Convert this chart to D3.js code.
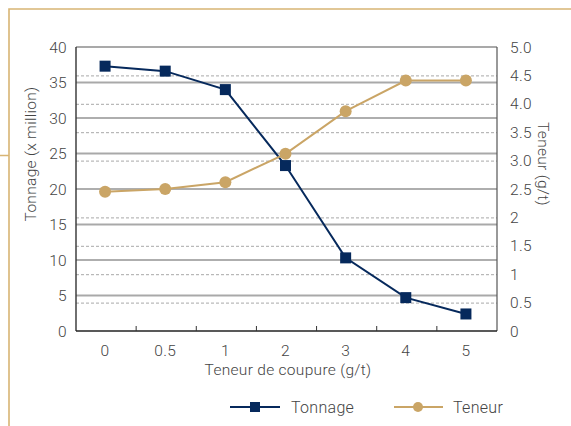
<!DOCTYPE html>
<html>
<head>
<meta charset="utf-8">
<script src="https://cdn.jsdelivr.net/npm/d3@7"></script>
<style>
  body { margin: 0; background: #fff; }
  text { font-family: Roboto, "Liberation Sans", sans-serif; font-weight: 300; fill: #444; letter-spacing: 0.3px; }
</style>
</head>
<body>
<svg class="graph"></svg>
<script>
let categories = ["0", "0.5", "1", "2", "3", "4", "5"];
let tonnage = [37.3, 36.6, 34.0, 23.3, 10.3, 4.7, 2.4];
let teneur = [2.45, 2.5, 2.62, 3.12, 3.87, 4.41, 4.41];
let leftTicks = [0, 5, 10, 15, 20, 25, 30, 35, 40];
let rightTicks = [0, 0.5, 1, 1.5, 2, 2.5, 3, 3.5, 4, 4.5, 5];
let rightLabels = ["0", "0.5", "1", "1.5", "2", "2.5", "3.0", "3.5", "4.0", "4.5", "5.0"];

let W = 571, H = 426;
let plotLeft = 76, plotRight = 497, plotTop = 47, plotBottom = 331;
let navy = "#06295c", gold = "#caa566", frameGold = "#d8b574";
let fontSize = "15.5px";

var svg = d3.select(".graph").attr("width", W).attr("height", H);

// page frame
svg.append("path")
    .attr("d", "M9,426 V9 H571 M0,155.5 H9")
    .attr("fill", "none")
    .attr("stroke", frameGold)
    .attr("stroke-width", 1.6);

var x = d3.scaleBand().domain(categories).range([plotLeft, plotRight]);
var y = d3.scaleLinear().domain([0, 40]).range([plotBottom, plotTop]);
var y2 = d3.scaleLinear().domain([0, 5]).range([plotBottom, plotTop]);

// dashed lines for right axis ticks not on the left grid
svg.append("g").selectAll("line")
    .data(rightTicks.filter(d => Math.abs((d * 8) % 10) > 0.01 && d > 0 && d < 5))
    .enter().append("line")
    .attr("x1", plotLeft).attr("x2", plotRight)
    .attr("y1", d => y2(d) + 0.5).attr("y2", d => y2(d) + 0.5)
    .attr("stroke", "#a8a8a8")
    .attr("stroke-dasharray", "3,2");

// left grid
svg.append("g").selectAll("line")
    .data(leftTicks.filter(d => d > 0 && d < 40))
    .enter().append("line")
    .attr("x1", plotLeft).attr("x2", plotRight)
    .attr("y1", d => y(d)).attr("y2", d => y(d))
    .attr("stroke", d => d % 10 == 0 ? "#5e5e5e" : "#a9a9a9")
    .attr("stroke-width", d => d % 10 == 0 ? 1.2 : 2);

// frame of plot
svg.append("line").attr("x1", plotLeft).attr("x2", plotRight).attr("y1", plotTop).attr("y2", plotTop)
    .attr("stroke", "#555").attr("stroke-width", 1.2);
svg.append("line").attr("x1", plotRight).attr("x2", plotRight).attr("y1", plotTop).attr("y2", plotBottom)
    .attr("stroke", "#555").attr("stroke-width", 1.2);
svg.append("line").attr("x1", plotLeft).attr("x2", plotLeft).attr("y1", plotTop).attr("y2", plotBottom)
    .attr("stroke", "#333").attr("stroke-width", 1.4);
svg.append("line").attr("x1", plotLeft).attr("x2", plotRight).attr("y1", plotBottom).attr("y2", plotBottom)
    .attr("stroke", "#222").attr("stroke-width", 1.6);

// x ticks between bands
svg.append("g").selectAll("line")
    .data(categories.slice(1))
    .enter().append("line")
    .attr("x1", d => x(d)).attr("x2", d => x(d))
    .attr("y1", plotBottom - 5).attr("y2", plotBottom)
    .attr("stroke", "#333");

// left labels
svg.append("g").selectAll("text")
    .data(leftTicks)
    .enter().append("text")
    .attr("x", 67).attr("y", d => y(d) + 5.5)
    .attr("text-anchor", "end")
    .style("font-size", fontSize)
    .text(d => d);

// right labels
svg.append("g").selectAll("text")
    .data(rightTicks)
    .enter().append("text")
    .attr("x", 510).attr("y", d => y2(d) + 5.5)
    .style("font-size", fontSize)
    .text((d, i) => rightLabels[i]);

// x labels
svg.append("g").selectAll("text")
    .data(categories)
    .enter().append("text")
    .attr("x", d => x(d) + x.bandwidth() / 2 - 1)
    .attr("y", 356)
    .attr("text-anchor", "middle")
    .style("font-size", fontSize)
    .text(d => d);

svg.append("text")
    .attr("x", 288).attr("y", 375)
    .attr("text-anchor", "middle")
    .style("font-size", fontSize)
    .text("Teneur de coupure (g/t)");

svg.append("text")
    .attr("transform", "translate(36,154) rotate(-90)")
    .attr("text-anchor", "middle")
    .style("font-size", fontSize)
    .text("Tonnage (x million)");

svg.append("text")
    .attr("transform", "translate(538,164) rotate(90)")
    .attr("text-anchor", "middle")
    .style("font-size", fontSize)
    .text("Teneur (g/t)");

let cx = d => x(d) + x.bandwidth() / 2 - 1;

// Tonnage series
svg.append("path")
    .datum(tonnage)
    .attr("fill", "none")
    .attr("stroke", navy)
    .attr("stroke-width", 2)
    .attr("d", d3.line().x((d, i) => cx(categories[i])).y(d => y(d)));

svg.append("g").selectAll("rect")
    .data(tonnage)
    .enter().append("rect")
    .attr("x", (d, i) => cx(categories[i]) - 5.5)
    .attr("y", d => y(d) - 5.5)
    .attr("width", 11).attr("height", 11)
    .attr("fill", navy);

// Teneur series
svg.append("path")
    .datum(teneur)
    .attr("fill", "none")
    .attr("stroke", gold)
    .attr("stroke-width", 2)
    .attr("d", d3.line().x((d, i) => cx(categories[i])).y(d => y2(d)));

svg.append("g").selectAll("circle")
    .data(teneur)
    .enter().append("circle")
    .attr("cx", (d, i) => cx(categories[i]))
    .attr("cy", d => y2(d))
    .attr("r", 6)
    .attr("fill", gold);

// legend
let legend = svg.append("g");
legend.append("line").attr("x1", 230).attr("x2", 280).attr("y1", 407).attr("y2", 407)
    .attr("stroke", navy).attr("stroke-width", 2);
legend.append("rect").attr("x", 250).attr("y", 402).attr("width", 10).attr("height", 10).attr("fill", navy);
legend.append("text").attr("x", 291).attr("y", 413).style("font-size", "16px").text("Tonnage");

legend.append("line").attr("x1", 394).attr("x2", 443).attr("y1", 407).attr("y2", 407)
    .attr("stroke", gold).attr("stroke-width", 2);
legend.append("circle").attr("cx", 418).attr("cy", 407).attr("r", 5).attr("fill", gold);
legend.append("text").attr("x", 453).attr("y", 413).style("font-size", "16px").text("Teneur");
</script>
</body>
</html>
